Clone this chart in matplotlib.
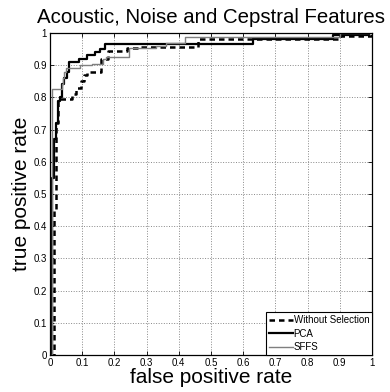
import numpy as np
import matplotlib.pyplot as plt

plt.rcParams['font.family'] = ['Liberation Sans', 'DejaVu Sans']

# ROC step points: level tpr[i] starts at fpr[i]
fpr_none = [0, 0.012, 0.018, 0.024, 0.068, 0.08, 0.097, 0.107, 0.115, 0.16, 0.18, 0.24, 0.28, 0.46, 0.90, 1.0]
tpr_none = [0, 0.45, 0.72, 0.795, 0.81, 0.83, 0.85, 0.87, 0.88, 0.92, 0.945, 0.953, 0.957, 0.98, 0.99, 1.0]

fpr_pca = [0, 0.005, 0.012, 0.019, 0.025, 0.031, 0.038, 0.044, 0.052, 0.06, 0.09, 0.116, 0.14, 0.155, 0.171, 0.63, 0.88, 0.99, 1.0]
tpr_pca = [0, 0.55, 0.67, 0.72, 0.79, 0.80, 0.84, 0.86, 0.88, 0.91, 0.92, 0.93, 0.94, 0.95, 0.966, 0.98, 0.993, 1.0, 1.0]

fpr_sffs = [0, 0.005, 0.008, 0.036, 0.04, 0.045, 0.05, 0.093, 0.13, 0.165, 0.175, 0.245, 0.33, 0.36, 0.42, 0.9, 1.0]
tpr_sffs = [0, 0.68, 0.825, 0.84, 0.86, 0.88, 0.89, 0.90, 0.905, 0.92, 0.926, 0.954, 0.96, 0.97, 0.987, 0.999, 1.0]

fig = plt.figure(figsize=(3.9, 3.92), dpi=100)
ax = fig.add_axes([0.128, 0.094, 0.826, 0.822])

ax.plot(fpr_none, tpr_none, drawstyle='steps-post', color='black', lw=1.8,
        linestyle=(0, (2.2, 1.6)), label='Without Selection')
ax.plot(fpr_pca, tpr_pca, drawstyle='steps-post', color='black', lw=1.6, label='PCA')
ax.plot(fpr_sffs, tpr_sffs, drawstyle='steps-post', color='#7f7f7f', lw=1.0, label='SFFS')

ticks = np.round(np.arange(0, 1.01, 0.1), 1)
labels = ['0'] + ['%.1f' % t for t in ticks[1:-1]] + ['1']
ax.set_xticks(ticks)
ax.set_xticklabels(labels)
ax.set_yticks(ticks)
ax.set_yticklabels(labels)
ax.set_xlim(0, 1)
ax.set_ylim(0, 1)
ax.tick_params(direction='in', top=True, right=True, labelsize=7, length=3, width=0.6, pad=2)
ax.grid(True, linestyle=':', color='#888888', linewidth=0.7)
for s in ax.spines.values():
    s.set_linewidth(0.9)

ax.set_title('Acoustic, Noise and Cepstral Features', fontsize=14.7, pad=7)
ax.set_xlabel('false positive rate', fontsize=15, labelpad=0)
ax.set_ylabel('true positive rate', fontsize=15, labelpad=2)

leg = ax.legend(loc='lower right', fontsize=7, borderaxespad=0, fancybox=False,
                handlelength=2.4, handletextpad=0.1, labelspacing=0.36, borderpad=0.3)
leg.get_frame().set_edgecolor('black')
leg.get_frame().set_linewidth(0.8)
leg.get_frame().set_alpha(1)

fig.savefig('out.png', dpi=100)
